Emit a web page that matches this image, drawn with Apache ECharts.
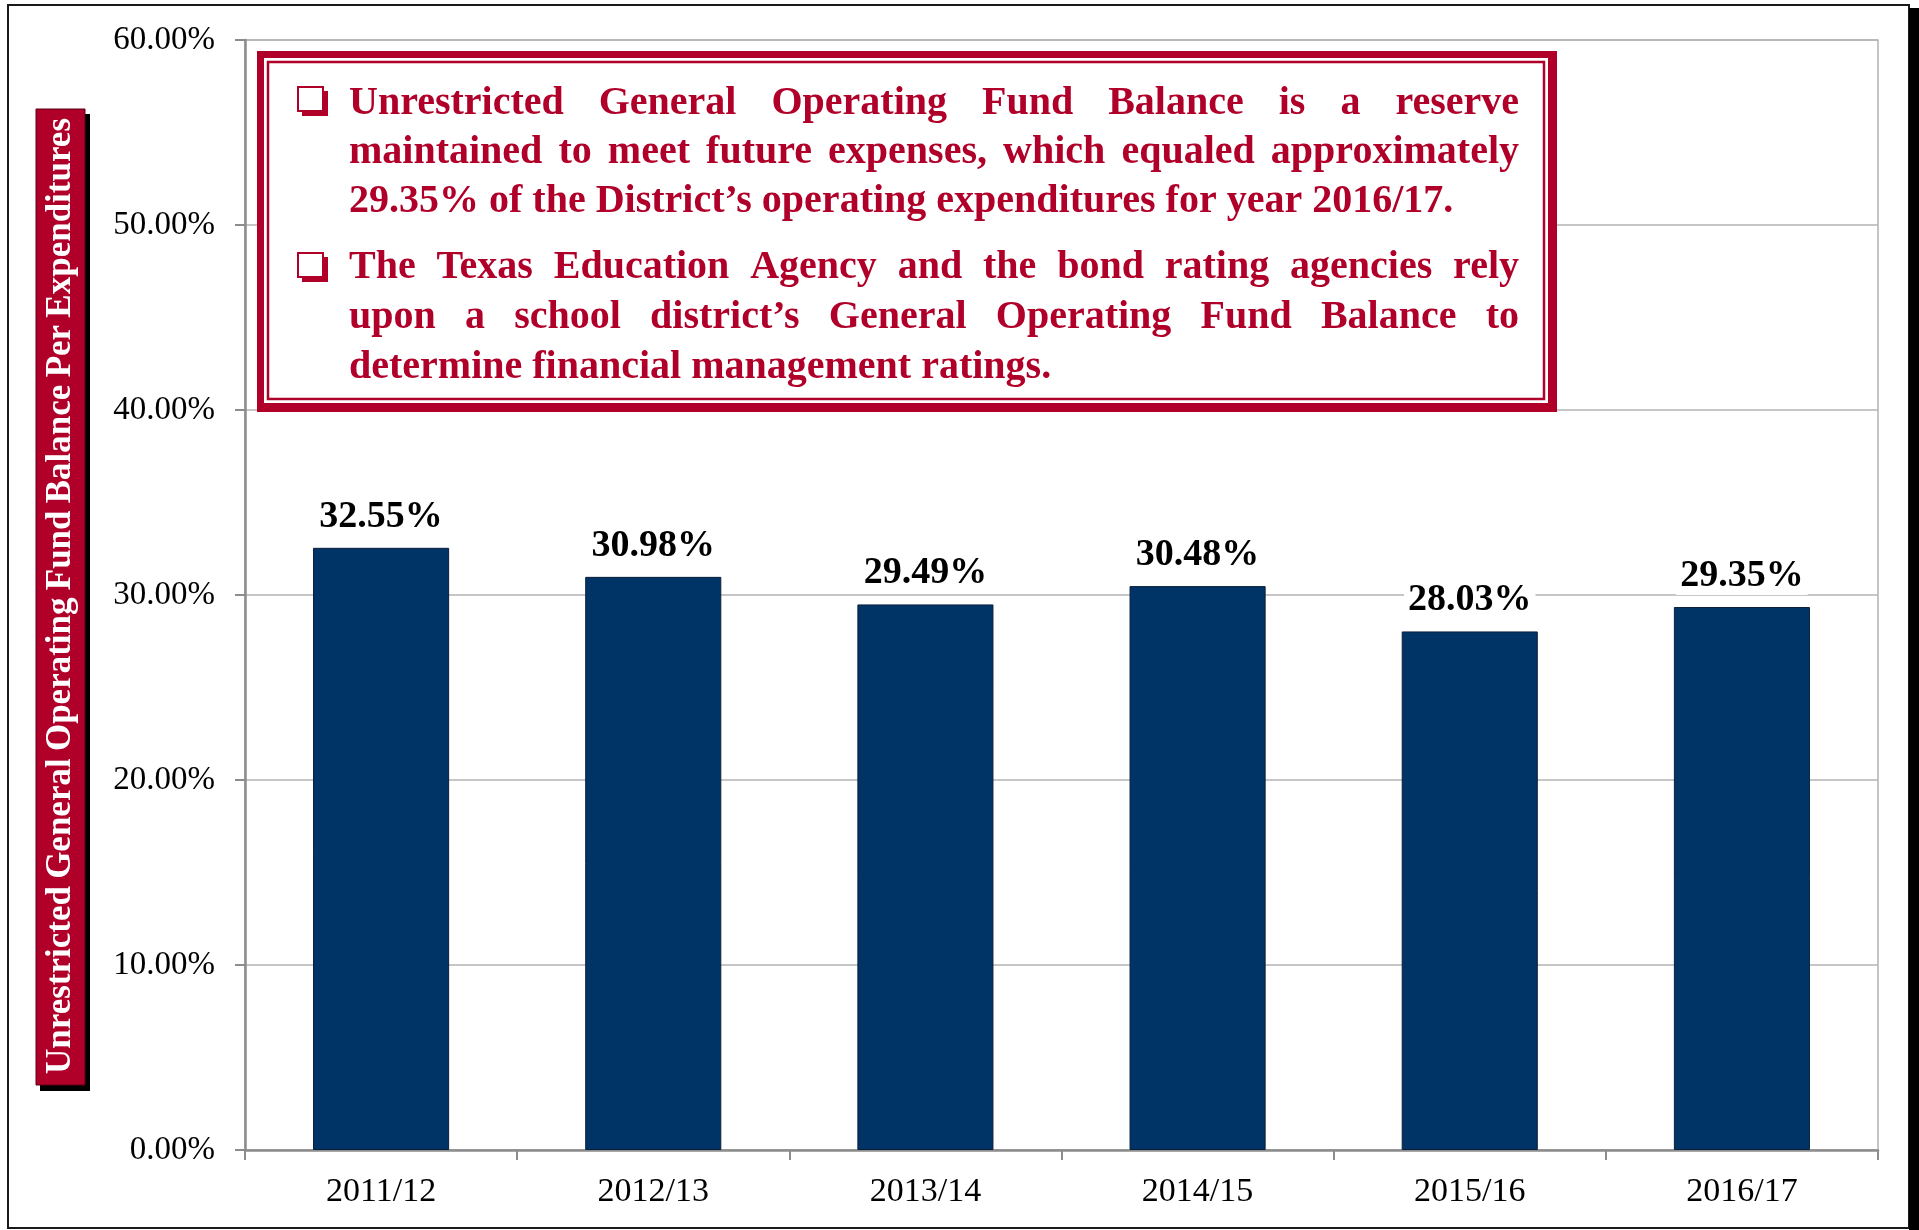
<!DOCTYPE html>
<html>
<head>
<meta charset="utf-8">
<script src="https://cdn.jsdelivr.net/npm/echarts@6/dist/echarts.min.js"></script>
<style>
  html, body { margin: 0; padding: 0; background: #fff; }
  #main { width: 1919px; height: 1230px; }
</style>
</head>
<body>
<div id="main"></div>
<script>
// data
const years = ['2011/12', '2012/13', '2013/14', '2014/15', '2015/16', '2016/17'];
const fundShare = [32.55, 30.98, 29.49, 30.48, 28.03, 29.35];
const yMin = 0, yMax = 60, yStep = 10;
const yTitle = 'Unrestricted General Operating Fund Balance Per Expenditures';
// callout lines: [text, justified?]
const noteOne = [
  ['Unrestricted General Operating Fund Balance is a reserve', true],
  ['maintained to meet future expenses, which equaled approximately', true],
  ['29.35% of the District\u2019s operating expenditures for year 2016/17.', false]
];
const noteTwo = [
  ['The Texas Education Agency and the bond rating agencies rely', true],
  ['upon a school district\u2019s General Operating Fund Balance to', true],
  ['determine financial management ratings.', false]
];

const RED = '#b0002a';
const NAVY = '#003466';
const SERIF = '"Liberation Serif", "Times New Roman", serif';

const measure = document.createElement('canvas').getContext('2d');

// lay out the words of a line, spreading them when the line is justified
// (vertical lines run bottom to top, so "from" is larger than "to")
function wordsOf(text, from, to, across, justify, font, fill, vertical) {
  measure.font = font;
  const words = text.split(' ');
  const widths = words.map(w => measure.measureText(w).width);
  const total = widths.reduce((a, b) => a + b, 0);
  const span = Math.abs(to - from);
  let gap = measure.measureText(' ').width;
  if (justify && words.length > 1) gap = (span - total) / (words.length - 1);
  let pos = from;
  return words.map((w, i) => {
    const el = {
      type: 'text',
      z: 110,
      style: { text: w, font: font, fill: fill, textAlign: 'left', textVerticalAlign: 'middle' }
    };
    if (vertical) {
      el.x = across; el.y = pos; el.rotation = Math.PI / 2;
      pos -= widths[i] + gap;
    } else {
      el.x = pos; el.y = across;
      pos += widths[i] + gap;
    }
    return el;
  });
}

function bullet(x, y) {
  return [
    { type: 'rect', z: 105, shape: { x: x + 4, y: y + 4, width: 26, height: 25 }, style: { fill: RED } },
    { type: 'rect', z: 106, shape: { x: x, y: y, width: 25, height: 24 }, style: { fill: '#fff', stroke: RED, lineWidth: 2 } }
  ];
}

const noteFont = 'bold 40px ' + SERIF;
const textLeft = 349, textRight = 1519;
let noteEls = [];
const rowsOne = [104, 153, 202];
const rowsTwo = [268, 318, 368];
noteOne.forEach((l, i) => { noteEls = noteEls.concat(wordsOf(l[0], textLeft, textRight, rowsOne[i], l[1], noteFont, RED)); });
noteTwo.forEach((l, i) => { noteEls = noteEls.concat(wordsOf(l[0], textLeft, textRight, rowsTwo[i], l[1], noteFont, RED)); });

const titleEls = wordsOf(yTitle, 1074, 118, 61, true, 'bold 35px ' + SERIF, '#fff', true);

const chart = echarts.init(document.getElementById('main'));

const option = {
  backgroundColor: '#fff',
  animation: false,
  grid: {
    left: 245,
    right: 41,
    top: 40,
    bottom: 80,
    show: true,
    borderColor: '#b3b3b3',
    borderWidth: 1.5
  },
  xAxis: {
    type: 'category',
    data: years,
    axisLine: { lineStyle: { color: '#8c8c8c', width: 2.5 } },
    axisTick: { show: true, length: 10, lineStyle: { color: '#8c8c8c', width: 2 } },
    axisLabel: { color: '#000', fontFamily: SERIF, fontSize: 34, margin: 25 }
  },
  yAxis: {
    type: 'value',
    min: yMin,
    max: yMax,
    interval: yStep,
    axisLine: { show: true, lineStyle: { color: '#8c8c8c', width: 2.5 } },
    axisTick: { show: true, length: 10, lineStyle: { color: '#8c8c8c', width: 2 } },
    splitLine: { lineStyle: { color: '#b3b3b3', width: 1.5 } },
    axisLabel: {
      color: '#000', fontFamily: SERIF, fontSize: 33, margin: 30,
      formatter: v => v.toFixed(2) + '%'
    }
  },
  series: [{
    type: 'bar',
    data: fundShare,
    barWidth: '50%',
    itemStyle: { color: NAVY, borderColor: '#0b1e3a', borderWidth: 1 },
    label: {
      show: true,
      position: 'top',
      distance: 12,
      color: '#000',
      fontFamily: SERIF,
      fontWeight: 'bold',
      fontSize: 38,
      backgroundColor: '#fff',
      padding: [0, 4],
      formatter: p => p.value.toFixed(2) + '%'
    }
  }],
  graphic: [
    // outer frame with its dark right edge
    { type: 'rect', z: 100, shape: { x: 8, y: 5, width: 1901, height: 1223 }, style: { fill: 'none', stroke: '#1a1a1a', lineWidth: 2 } },
    { type: 'rect', z: 100, shape: { x: 1909, y: 8, width: 10, height: 1222 }, style: { fill: '#000' } },
    // axis title badge
    { type: 'rect', z: 101, shape: { x: 40, y: 114, width: 50, height: 977 }, style: { fill: '#000' } },
    { type: 'rect', z: 102, shape: { x: 36, y: 109, width: 49, height: 976 }, style: { fill: RED, stroke: '#5a0015', lineWidth: 1 } },
    // callout box with double border
    { type: 'rect', z: 103, shape: { x: 257, y: 51, width: 1300, height: 361 }, style: { fill: RED } },
    { type: 'rect', z: 104, shape: { x: 264, y: 58, width: 1284, height: 345 }, style: { fill: '#fff' } },
    { type: 'rect', z: 104, shape: { x: 268, y: 62, width: 1276, height: 337 }, style: { fill: '#fff', stroke: RED, lineWidth: 2.5 } }
  ].concat(bullet(298, 87), bullet(298, 253), noteEls, titleEls)
};

chart.setOption(option);
</script>
</body>
</html>
